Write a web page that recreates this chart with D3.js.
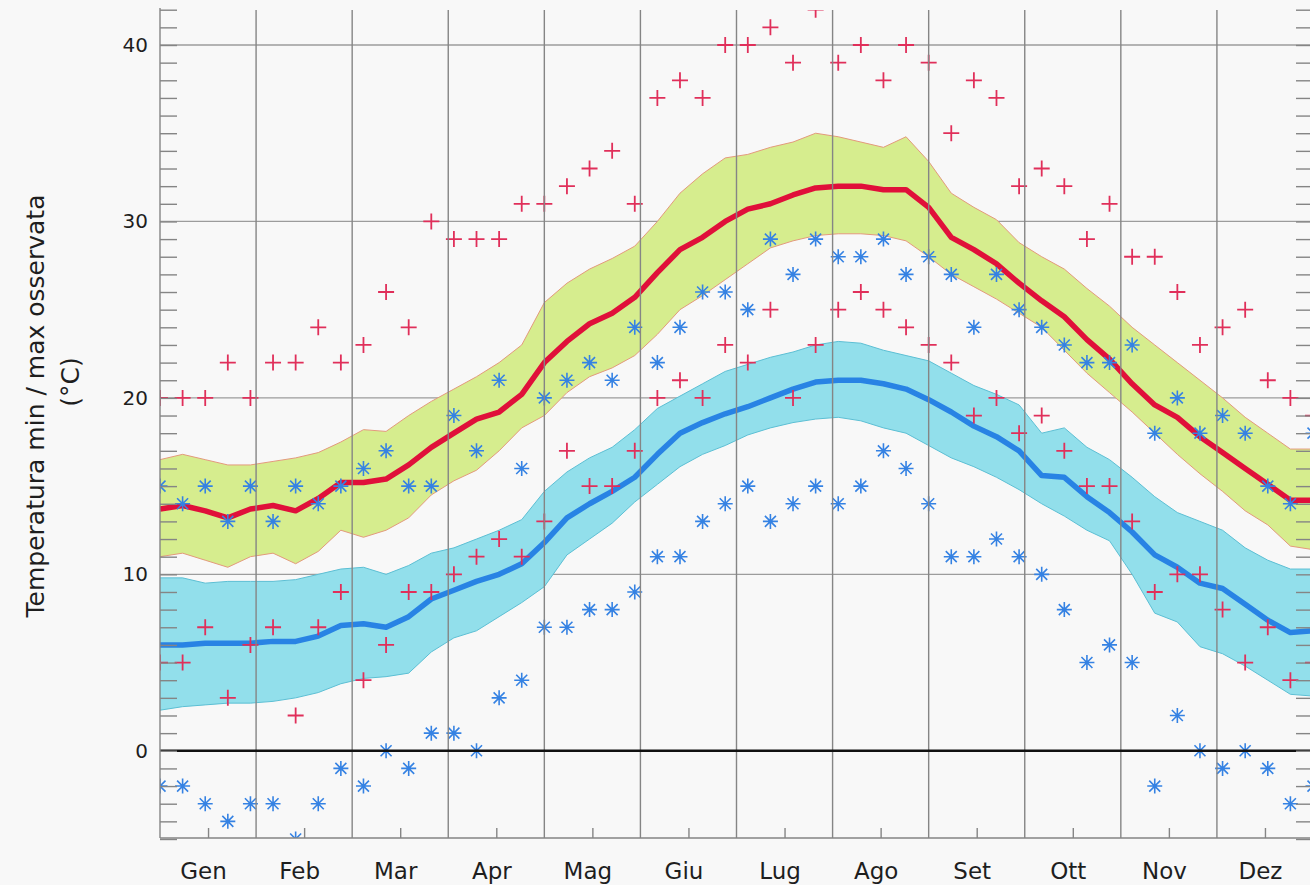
<!DOCTYPE html>
<html>
<head>
<meta charset="utf-8">
<script src="https://cdn.jsdelivr.net/npm/d3@7"></script>
<style>
  html, body { margin: 0; padding: 0; background: #f8f8f8; }
  svg { display: block; font-family: "DejaVu Sans", sans-serif; }
</style>
</head>
<body>
<script>
const months = ["Gen", "Feb", "Mar", "Apr", "Mag", "Giu", "Lug", "Ago", "Set", "Ott", "Nov", "Dez"];
const yTicks = [0, 10, 20, 30, 40];

// weekly values (52 weeks)
const maxRecordHigh = [20, 20, 20, 22, 20, 22, 22, 24, 22, 23, 26, 24, 30, 29, 29, 29, 31, 31, 32, 33, 34, 31, 37, 38, 37, 40,
  40, 41, 39, 42, 39, 40, 38, 40, 39, 35, 38, 37, 32, 33, 32, 29, 31, 28, 28, 26, 23, 24, 25, 21, 20, 19];
const maxRecordLow = [5, 5, 7, 3, 6, 7, 2, 7, 9, 4, 6, 9, 9, 10, 11, 12, 11, 13, 17, 15, 15, 17, 20, 21, 20, 23,
  22, 25, 20, 23, 25, 26, 25, 24, 23, 22, 19, 20, 18, 19, 17, 15, 15, 13, 9, 10, 10, 8, 5, 7, 4, 5];
const minRecordHigh = [15, 14, 15, 13, 15, 13, 15, 14, 15, 16, 17, 15, 15, 19, 17, 21, 16, 20, 21, 22, 21, 24, 22, 24, 26, 26,
  25, 29, 27, 29, 28, 28, 29, 27, 28, 27, 24, 27, 25, 24, 23, 22, 22, 23, 18, 20, 18, 19, 18, 15, 14, 18];
const minRecordLow = [-2, -2, -3, -4, -3, -3, -5, -3, -1, -2, 0, -1, 1, 1, 0, 3, 4, 7, 7, 8, 8, 9, 11, 11, 13, 14,
  15, 13, 14, 15, 14, 15, 17, 16, 14, 11, 11, 12, 11, 10, 8, 5, 6, 5, -2, 2, 0, -1, 0, -1, -3, -2];

const maxMean = [13.7, 13.9, 13.6, 13.2, 13.7, 13.9, 13.6, 14.3, 15.2, 15.2, 15.4, 16.2, 17.2, 18.0, 18.8, 19.2, 20.2, 22.0,
  23.2, 24.2, 24.8, 25.7, 27.1, 28.4, 29.1, 30.0, 30.7, 31.0, 31.5, 31.9, 32.0, 32.0, 31.8, 31.8, 30.8, 29.1, 28.4,
  27.6, 26.5, 25.5, 24.6, 23.3, 22.2, 20.8, 19.6, 18.9, 17.8, 16.9, 16.0, 15.1, 14.2, 14.2];
const maxUpper = [16.5, 16.8, 16.5, 16.2, 16.2, 16.4, 16.6, 16.9, 17.5, 18.2, 18.1, 19.0, 19.8, 20.5, 21.2, 22.0, 23.0, 25.4,
  26.5, 27.3, 27.9, 28.6, 30.0, 31.6, 32.7, 33.6, 33.8, 34.2, 34.5, 35.0, 34.8, 34.5, 34.2, 34.8, 33.4, 31.6, 30.8,
  30.1, 28.8, 28.0, 27.3, 26.2, 25.2, 24.0, 23.0, 22.0, 21.0, 20.0, 18.9, 18.0, 17.1, 17.1];
const maxLower = [11.0, 11.2, 10.8, 10.4, 11.0, 11.2, 10.6, 11.3, 12.5, 12.1, 12.5, 13.2, 14.5, 15.3, 15.9, 17.0, 18.3, 19.0,
  20.3, 21.2, 21.7, 22.4, 23.6, 25.0, 25.8, 26.7, 27.6, 28.5, 28.9, 29.2, 29.3, 29.3, 29.2, 28.9, 28.0, 27.0, 26.3,
  25.6, 24.8, 24.0, 22.7, 21.4, 20.3, 19.2, 18.0, 16.8, 15.7, 14.7, 13.6, 12.8, 11.6, 11.4];

const minMean = [6.0, 6.0, 6.1, 6.1, 6.1, 6.2, 6.2, 6.5, 7.1, 7.2, 7.0, 7.6, 8.6, 9.1, 9.6, 10.0, 10.6, 11.8,
  13.2, 14.0, 14.7, 15.5, 16.8, 18.0, 18.6, 19.1, 19.5, 20.0, 20.5, 20.9, 21.0, 21.0, 20.8, 20.5, 19.9, 19.2, 18.4,
  17.8, 17.0, 15.6, 15.5, 14.4, 13.5, 12.4, 11.1, 10.4, 9.5, 9.2, 8.3, 7.4, 6.7, 6.8];
const minUpper = [9.8, 9.8, 9.5, 9.6, 9.6, 9.6, 9.7, 10.0, 10.3, 10.4, 10.0, 10.5, 11.2, 11.5, 12.0, 12.5, 13.1, 14.7,
  15.8, 16.6, 17.2, 18.2, 19.4, 20.1, 20.8, 21.5, 21.9, 22.3, 22.6, 23.0, 23.2, 23.1, 22.7, 22.4, 22.1, 21.4, 20.7,
  20.2, 19.6, 18.0, 18.3, 17.2, 16.5, 15.5, 14.4, 13.5, 13.0, 12.5, 11.5, 10.8, 10.3, 10.3];
const minLower = [2.3, 2.5, 2.6, 2.7, 2.7, 2.8, 3.0, 3.3, 3.8, 4.1, 4.2, 4.4, 5.6, 6.4, 6.8, 7.6, 8.4, 9.3,
  11.1, 12.0, 12.9, 14.1, 15.1, 16.1, 16.8, 17.3, 17.9, 18.3, 18.6, 18.8, 18.9, 18.7, 18.3, 18.0, 17.3, 16.6, 16.1,
  15.5, 14.8, 14.0, 13.3, 12.5, 11.9, 10.0, 7.8, 7.3, 5.9, 5.5, 4.8, 4.0, 3.2, 3.1];

const width = 1310, height = 885;
const plotLeft = 160, plotRight = 1313, plotTop = 10, plotBottom = 838;

const svg = d3.select("body").append("svg")
  .attr("width", width)
  .attr("height", height);

svg.append("rect").attr("width", width).attr("height", height).attr("fill", "#f8f8f8");

const xMonth = d3.scaleLinear().domain([0, 12]).range([plotLeft, plotRight]);
const xWeek = d3.scaleLinear().domain([0, 51]).range([plotLeft, plotRight]);
const y = d3.scaleLinear().domain([-5, 40]).range([839, 45]);

svg.append("clipPath").attr("id", "plot")
  .append("rect")
  .attr("x", plotLeft).attr("y", plotTop)
  .attr("width", plotRight - plotLeft).attr("height", plotBottom - plotTop);

// horizontal grid
svg.append("g")
  .selectAll("line")
  .data(yTicks.filter(d => d !== 0))
  .join("line")
    .attr("x1", plotLeft).attr("x2", plotRight)
    .attr("y1", d => y(d)).attr("y2", d => y(d))
    .attr("stroke", "#9c9c9c")
    .attr("stroke-width", 1.3);

const plot = svg.append("g").attr("clip-path", "url(#plot)");
const idx = d3.range(52);

function band(lo, hi, fill, stroke) {
  const area = d3.area()
    .x(i => xWeek(i))
    .y0(i => y(lo[i]))
    .y1(i => y(hi[i]));
  plot.append("path")
    .datum(idx)
    .attr("d", area)
    .attr("fill", fill);
  for (const s of [lo, hi]) {
    plot.append("path")
      .datum(idx)
      .attr("d", d3.line().x(i => xWeek(i)).y(i => y(s[i])))
      .attr("fill", "none")
      .attr("stroke", stroke)
      .attr("stroke-width", 1);
  }
}

band(maxLower, maxUpper, "#d6ed8e", "#e39a7c");
band(minLower, minUpper, "#92dfeb", "#5cbfd4");

// vertical month lines
svg.append("g")
  .selectAll("line")
  .data(d3.range(1, 12))
  .join("line")
    .attr("x1", d => xMonth(d)).attr("x2", d => xMonth(d))
    .attr("y1", plotTop).attr("y2", plotBottom)
    .attr("stroke", "#858585")
    .attr("stroke-width", 1.4);

// zero line
svg.append("line")
  .attr("x1", plotLeft).attr("x2", plotRight)
  .attr("y1", y(0)).attr("y2", y(0))
  .attr("stroke", "#111")
  .attr("stroke-width", 2.6);

// mean lines
plot.append("path")
  .datum(idx)
  .attr("d", d3.line().x(i => xWeek(i)).y(i => y(minMean[i])))
  .attr("fill", "none")
  .attr("stroke", "#2883e4")
  .attr("stroke-width", 5.5)
  .attr("stroke-linejoin", "round");

plot.append("path")
  .datum(idx)
  .attr("d", d3.line().x(i => xWeek(i)).y(i => y(maxMean[i])))
  .attr("fill", "none")
  .attr("stroke", "#e0103a")
  .attr("stroke-width", 5.5)
  .attr("stroke-linejoin", "round");

// markers
const plus = "M-8,0H8M0,-8V8";
const star = "M-7.5,0H7.5M0,-7.5V7.5M-5.5,-5.5L5.5,5.5M-5.5,5.5L5.5,-5.5";

for (const s of [minRecordHigh, minRecordLow]) {
  plot.append("g")
    .selectAll("path")
    .data(idx)
    .join("path")
      .attr("transform", i => `translate(${xWeek(i)},${y(s[i])})`)
      .attr("d", star)
      .attr("fill", "none")
      .attr("stroke", "#3582e3")
      .attr("stroke-width", 1.6);
}

for (const s of [maxRecordHigh, maxRecordLow]) {
  plot.append("g")
    .selectAll("path")
    .data(idx)
    .join("path")
      .attr("transform", i => `translate(${xWeek(i)},${y(s[i])})`)
      .attr("d", plus)
      .attr("fill", "none")
      .attr("stroke", "#e02f5a")
      .attr("stroke-width", 1.8);
}

// axes
const yAxis = d3.axisLeft(y)
  .tickValues(d3.range(-5, 43))
  .tickSize(-17)
  .tickPadding(12)
  .tickFormat(d => yTicks.includes(d) ? d : "");

const gy = svg.append("g")
  .attr("transform", `translate(${plotLeft},0)`)
  .call(yAxis);
gy.select(".domain").attr("d", `M0,${plotTop - 2}V${plotBottom}`).attr("stroke", "#858585").attr("stroke-width", 1.4);
gy.selectAll(".tick line").attr("stroke", "#858585").attr("stroke-width", 1.4);
gy.selectAll(".tick text")
  .attr("font-size", 20)
  .attr("font-family", "DejaVu Sans")
  .attr("fill", "#1e1e1e");

const gyr = svg.append("g")
  .attr("transform", `translate(${plotRight},0)`)
  .call(d3.axisRight(y).tickValues(d3.range(-5, 43)).tickSize(-17).tickFormat(""));
gyr.select(".domain").remove();
gyr.selectAll(".tick line").attr("stroke", "#858585").attr("stroke-width", 1.4);

const xAxis = d3.axisBottom(xMonth)
  .tickValues(d3.range(12).map(d => d + 0.5))
  .tickSize(-10)
  .tickPadding(25)
  .tickFormat((d, i) => months[i]);

const gx = svg.append("g")
  .attr("transform", `translate(0,${plotBottom})`)
  .call(xAxis);
gx.select(".domain").attr("d", `M${plotLeft},0H${plotRight}`).attr("stroke", "#858585").attr("stroke-width", 1.4);
gx.selectAll(".tick line").attr("stroke", "#858585").attr("stroke-width", 1.4);
gx.selectAll(".tick text")
  .attr("dx", -5)
  .attr("font-size", 23)
  .attr("font-family", "DejaVu Sans")
  .attr("fill", "#1e1e1e");

// y label
svg.append("text")
  .attr("transform", "translate(44,406) rotate(-90)")
  .attr("text-anchor", "middle")
  .attr("font-size", 25)
  .attr("fill", "#1e1e1e")
  .text("Temperatura min / max osservata");

svg.append("text")
  .attr("transform", "translate(79,382) rotate(-90)")
  .attr("text-anchor", "middle")
  .attr("font-size", 25)
  .attr("fill", "#1e1e1e")
  .text("(°C)");
</script>
</body>
</html>
